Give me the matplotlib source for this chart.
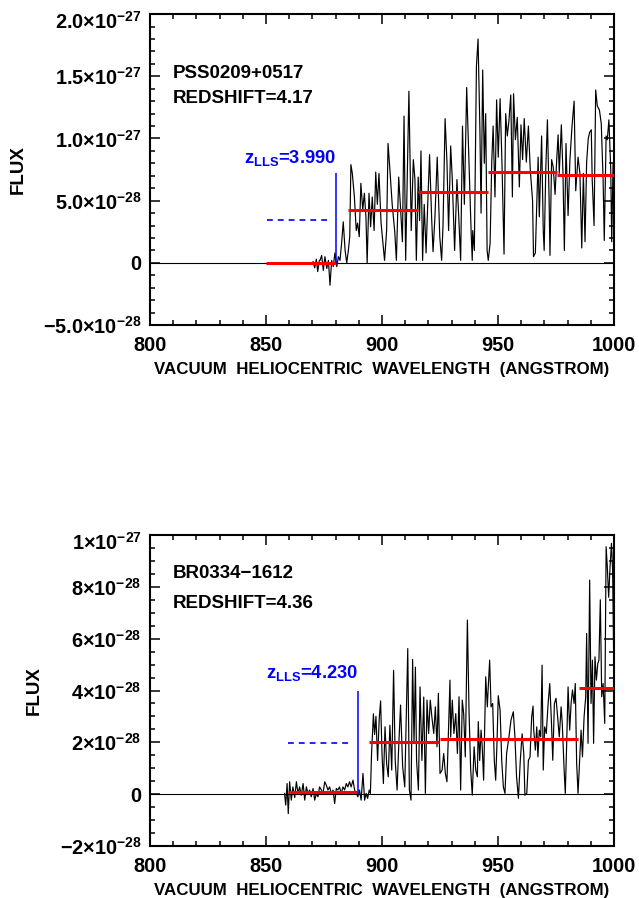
import matplotlib
matplotlib.use("Agg")
import matplotlib.pyplot as plt
from matplotlib.ticker import MultipleLocator
from matplotlib.transforms import ScaledTranslation

plt.rcParams['font.family'] = ['Liberation Sans', 'DejaVu Sans']
plt.rcParams['font.weight'] = 'bold'
plt.rcParams['axes.labelweight'] = 'bold'
plt.rcParams['mathtext.fontset'] = 'custom'
plt.rcParams['mathtext.rm'] = 'Liberation Sans:bold'
plt.rcParams['mathtext.it'] = 'Liberation Sans:bold'
plt.rcParams['mathtext.bf'] = 'Liberation Sans:bold'

# flux in units of 1e-28
# ---------- PSS0209+0517 ----------
wave1 = [870.3, 871.0, 871.7, 872.3, 873.0, 873.3, 874.0, 874.7, 875.4, 876.2,
         876.9, 877.6, 878.3, 879.0, 879.7, 880.5, 881.2, 881.9, 882.6, 883.3,
         884.1, 884.8, 885.5, 886.1, 886.6, 887.2, 888.1, 888.9, 889.5, 890.2,
         890.9, 891.7, 892.4, 893.1, 893.6, 894.4, 895.1, 895.8, 896.6, 897.3,
         898.0, 898.7, 899.6, 901.1, 902.0, 902.6, 903.4, 904.4, 905.5, 906.2,
         907.2, 907.9, 908.8, 909.5, 910.2, 911.6, 912.6, 913.5, 914.2, 914.8,
         915.6, 916.2, 916.8, 917.5, 918.2, 919.0, 919.7, 920.5, 921.4, 922.0,
         922.8, 923.8, 924.9, 925.7, 926.3, 927.2, 928.0, 928.7, 929.6, 930.3,
         931.3, 932.3, 933.1, 933.9, 934.7, 935.5, 936.5, 937.5, 938.4, 938.9,
         939.1, 939.8, 940.7, 941.4, 942.2, 942.7, 943.4, 944.1, 944.7, 945.3,
         945.8, 946.6, 947.3, 947.9, 948.7, 949.4, 950.1, 950.9, 951.7, 952.6,
         953.3, 954.0, 954.7, 955.5, 956.2, 956.7, 957.5, 958.3, 959.2, 959.9,
         960.6, 961.3, 962.2, 963.1, 963.9, 964.9, 965.3, 966.1, 967.3, 967.8,
         968.8, 969.5, 969.9, 970.6, 971.3, 972.0, 972.4, 973.1, 973.8, 974.6,
         975.3, 975.9, 976.4, 977.3, 978.0, 978.6, 979.3, 980.2, 981.0, 981.9,
         982.8, 983.5, 984.5, 985.3, 986.1, 986.8, 987.5, 988.2, 988.9, 989.5,
         990.2, 990.6, 991.4, 992.1, 992.8, 993.7, 994.5, 995.3, 995.8, 996.6,
         997.1, 997.8, 998.6, 999.0, 999.6, 999.9]
flux1 = [0.1, -0.4, 0.3, -0.7, 0.2, 0.2, 0.6, -0.6, 0.5, -0.45,
         0.2, -1.8, 0.2, -0.3, 0.8, -0.3, 0.5, 0.2, 1.6, 3.3,
         1.0, 0.0, 1.0, 2.1, 7.9, 7.2, 5.3, 2.6, 3.2, 2.1,
         6.4, 4.25, 5.6, 3.6, 0.0, 5.6, 2.9, 5.3, 2.6, 7.3,
         4.7, 7.2, 3.2, 0.2, 2.6, 9.6, 7.5, 4.7, 2.5, 0.2,
         6.9, 4.7, 1.7, 11.8, 0.2, 13.8, 2.6, 8.3, 6.7, 0.2,
         6.9, 3.4, 9.0, 0.2, 4.7, 0.8, 4.7, 8.7, 3.6, 0.9,
         3.6, 8.5, 2.1, 0.2, 3.0, 11.6, 8.1, 2.6, 9.4, 6.7,
         1.0, 6.7, 3.6, 0.2, 11.0, 4.7, 14.1, 8.1, 2.6, 0.2,
         2.6, 1.0, 15.8, 18.0, 10.7, 4.0, 15.5, 8.0, 12.0, 1.0,
         0.2, 1.6, 8.1, 11.0, 5.3, 13.1, 8.5, 13.2, 8.1, 0.7,
         12.0, 10.2, 11.4, 13.5, 5.3, 13.6, 9.9, 11.7, 6.1, 11.1,
         8.3, 11.6, 8.1, 11.0, 7.5, 5.0, 0.5, 0.8, 8.5, 3.7,
         10.2, 2.6, 1.0, 7.6, 11.5, 5.3, 0.6, 8.3, 7.7, 5.5,
         8.3, 10.3, 7.2, 11.1, 7.2, 1.0, 9.6, 3.8, 8.3, 11.0,
         13.0, 5.8, 8.5, 7.2, 1.2, 7.2, 1.7, 8.1, 10.0, 10.5,
         10.7, 6.7, 3.0, 13.9, 12.6, 12.3, 11.2, 6.7, 1.8, 10.2,
         9.9, 11.5, 7.5, 1.7, 8.0, 4.0]
# Lyman limit continuum levels: start, end, level
step_lo1 = [850.0, 885.5, 915.6, 945.7, 975.5]
step_hi1 = [880.0, 915.4, 945.5, 975.4, 1000.0]
step_lev1 = [0.03, 4.27, 5.68, 7.29, 7.07]
lls_wave1 = 880.2
lls_top1 = 7.2
dash_x1 = [850.3, 878.5]
dash_lev1 = 3.44
name1 = "PSS0209+0517"
zlab1 = "REDSHIFT=4.17"
zlls1 = "3.990"

# ---------- BR0334-1612 ----------
wave2 = [858.0, 858.5, 859.1, 859.6, 860.2, 860.9, 861.6, 862.4, 863.1, 863.8,
         864.5, 865.2, 866.0, 866.7, 867.4, 868.1, 868.8, 869.5, 870.3, 871.0,
         871.7, 872.4, 873.1, 873.9, 874.6, 875.3, 876.0, 876.7, 877.4, 878.2,
         878.9, 879.6, 880.3, 881.0, 881.7, 882.4, 883.2, 883.9, 884.6, 885.3,
         886.0, 886.7, 887.5, 888.2, 888.9, 889.6, 890.3, 891.0, 891.8, 892.5,
         893.2, 893.8, 894.5, 895.0, 895.5, 896.3, 896.8, 897.4, 898.1, 898.8,
         899.4, 900.0, 900.6, 901.3, 902.0, 902.7, 903.4, 904.2, 905.0, 905.7,
         906.5, 907.2, 908.0, 908.9, 909.8, 910.3, 911.1, 911.8, 912.5, 913.2,
         913.8, 914.4, 914.9, 915.7, 916.4, 917.2, 918.0, 918.7, 919.4, 920.1,
         920.8, 921.5, 922.3, 923.0, 923.7, 924.3, 925.0, 925.9, 926.6, 927.3,
         928.0, 928.7, 929.3, 929.6, 930.3, 931.0, 931.8, 932.5, 933.2, 933.9,
         934.6, 935.2, 935.9, 936.8, 937.5, 938.2, 938.9, 939.7, 940.4, 941.1,
         941.5, 942.1, 942.7, 943.2, 943.8, 944.7, 945.4, 945.8, 946.4, 947.0,
         947.7, 948.4, 949.0, 949.6, 950.1, 950.9, 951.6, 952.3, 953.0, 953.7,
         954.7, 955.6, 956.6, 957.3, 958.0, 958.8, 959.6, 960.4, 961.1, 961.6,
         962.4, 963.1, 963.8, 964.5, 965.1, 965.4, 966.1, 966.7, 967.2, 967.8,
         968.4, 969.0, 969.5, 970.1, 970.8, 971.6, 972.3, 973.0, 973.6, 974.3,
         975.0, 975.7, 976.4, 977.2, 977.7, 978.5, 979.0, 979.6, 980.2, 980.9,
         981.5, 982.1, 982.8, 983.3, 983.9, 984.5, 985.1, 985.8, 986.4, 987.1,
         987.8, 988.2, 988.8, 989.5, 990.1, 990.7, 991.2, 991.8, 992.4, 993.0,
         993.5, 994.1, 994.7, 995.3, 996.0, 996.6, 997.1, 997.7, 998.3, 998.9,
         999.4, 999.9]
flux2 = [0.03, -0.42, 0.41, -0.75, 0.48, -0.23, 0.28, -0.13, 0.48, 0.03,
         0.28, -0.04, 0.41, -0.23, 0.28, 0.03, 0.16, -0.1, 0.22, -0.23,
         0.03, -0.1, 0.28, 0.16, 0.03, 0.48, 0.35, 0.16, 0.28, 0.03,
         0.16, -0.36, 0.22, 0.16, 0.28, 0.03, 0.28, 0.16, 0.41, 0.28,
         0.48, 0.28, 0.54, 0.16, 0.03, -0.1, 0.16, -0.23, 0.8, -0.23,
         0.03, -0.16, 0.16, 0.03, 1.57, 3.1, 2.3, 3.0, 1.3, 2.9,
         3.6, 1.57, 0.41, 2.6, 1.18, 0.67, 2.66, 0.93, 4.78, 1.3,
         0.16, 1.83, 3.44, 1.06, 0.28, 2.34, 5.62, 0.16, -0.23, 5.2,
         1.96, 4.9, 1.3, 0.16, 4.14, 1.3, 3.75, 0.03, 3.63, 2.34,
         3.63, 2.98, 2.34, 3.37, 1.83, 3.89, 0.8, 0.93, 1.57, 0.8,
         0.48, 2.6, 4.4, 2.2, 3.63, 2.34, 3.11, 1.57, 3.76, 0.16,
         3.63, 3.11, 1.44, 6.72, 3.24, 1.0, -0.04, 1.83, 0.93, 0.67,
         2.8, 1.3, 2.47, 1.83, 0.54, 4.53, 3.37, 4.14, 5.17, 3.37,
         3.5, 1.3, 0.54, 2.08, 3.8, 3.24, 1.3, 0.28, 0.03, 1.57,
         2.2, 2.86, 3.18, 2.2, 0.67, -0.16, 1.3, 2.33, 1.57, -0.04,
         0.03, 1.3, 1.44, 2.97, 3.4, 2.47, 1.7, 2.6, 1.44, 2.47,
         2.21, 4.98, 0.93, 2.6, 2.34, 3.5, 4.27, 2.86, 1.31, 3.5,
         3.7, 2.98, 2.21, 3.37, 2.73, 0.93, 0.03, 1.96, 4.14, 2.47,
         3.5, 4.02, 3.5, 4.27, 1.18, 0.03, 1.18, 2.47, 1.44, 2.98,
         3.76, 6.2, 1.96, 8.26, 3.5, 5.17, 1.96, 5.3, 4.4, 5.04,
         5.17, 7.5, 3.76, 4.27, 2.73, 9.55, 8.78, 7.6, 8.78, 9.68,
         8.65, 5.0]
step_lo2 = [859.5, 894.6, 924.8, 984.8]
step_hi2 = [889.2, 924.7, 984.4, 1000.0]
step_lev2 = [0.09, 2.0, 2.11, 4.09]
lls_wave2 = 889.6
lls_top2 = 3.99
dash_x2 = [859.5, 887.0]
dash_lev2 = 1.96
name2 = "BR0334\u22121612"
zlab2 = "REDSHIFT=4.36"
zlls2 = "4.230"

yticks1 = [-5, 0, 5, 10, 15, 20]
ylabels1 = ['$\u22125.0{\\times}10^{\u221228}$', '0', '$5.0{\\times}10^{\u221228}$',
            '$1.0{\\times}10^{\u221227}$', '$1.5{\\times}10^{\u221227}$', '$2.0{\\times}10^{\u221227}$']
yticks2 = [-2, 0, 2, 4, 6, 8, 10]
ylabels2 = ['$\u22122{\\times}10^{\u221228}$', '0', '$2{\\times}10^{\u221228}$', '$4{\\times}10^{\u221228}$',
            '$6{\\times}10^{\u221228}$', '$8{\\times}10^{\u221228}$', '$1{\\times}10^{\u221227}$']
xticks = [800, 850, 900, 950, 1000]
xtitle = 'VACUUM  HELIOCENTRIC  WAVELENGTH  (ANGSTROM)'

fig = plt.figure(figsize=(6.39, 8.98), dpi=100)
ax1 = fig.add_axes([0.2347, 0.638, 0.7262, 0.3463])
ax2 = fig.add_axes([0.2347, 0.0579, 0.7262, 0.3463])


def panel(ax, wave, flux, lo, hi, lev, lw, ltop, dx, dlev, name, zlab, zlls,
          yt, yl, ylim, yminor, name_y, z_y, lls_y):
    ax.axhline(0, color='black', lw=0.8, zorder=1)
    ax.plot(wave, flux, color='black', lw=0.85, zorder=2)
    ax.hlines(lev, lo, hi, colors='red', lw=2.2, zorder=3)
    ax.vlines(lw, 0, ltop, colors='blue', lw=1.1, zorder=4)
    ax.plot(dx, [dlev, dlev], color='blue', lw=1.2, linestyle=(0, (3.5, 3)), zorder=4)
    ax.text(lw, lls_y, r'z$_{\rm LLS}$=' + zlls, color='blue', fontsize=13.2,
            ha='right', va='baseline')
    ax.text(0.05, name_y, name, transform=ax.transAxes, fontsize=13.5, va='center')
    ax.text(0.05, z_y, zlab, transform=ax.transAxes, fontsize=13.5, va='center')
    ax.set_xlim(800, 1000)
    ax.set_ylim(*ylim)
    ax.set_xticks(xticks)
    ax.set_xticklabels([str(t) for t in xticks])
    ax.set_yticks(yt)
    ax.set_yticklabels(yl)
    ax.xaxis.set_minor_locator(MultipleLocator(10))
    ax.yaxis.set_minor_locator(MultipleLocator(yminor))
    ax.tick_params(which='both', direction='in', top=True, right=True, width=1.1,
                   labelsize=14.3)
    ax.tick_params(which='major', length=7)
    ax.tick_params(which='minor', length=3.6)
    ax.tick_params(axis='x', pad=8)
    ax.tick_params(axis='y', pad=6)
    for s in ax.spines.values():
        s.set_linewidth(1.5)
    # IDL keeps the top label inside the window
    top_lab = ax.get_yticklabels()[-1]
    top_lab.set_transform(top_lab.get_transform() +
                          ScaledTranslation(0, -6 / 100, fig.dpi_scale_trans))
    ax.set_xlabel(xtitle, fontsize=12.2, labelpad=5)
    ax.set_ylabel('FLUX', fontsize=13.5, labelpad=12)


panel(ax1, wave1, flux1, step_lo1, step_hi1, step_lev1, lls_wave1, lls_top1,
      dash_x1, dash_lev1, name1, zlab1, zlls1, yticks1, ylabels1, (-5, 20), 1,
      0.81, 0.73, 8.0)
panel(ax2, wave2, flux2, step_lo2, step_hi2, step_lev2, lls_wave2, lls_top2,
      dash_x2, dash_lev2, name2, zlab2, zlls2, yticks2, ylabels2, (-2, 10), 0.5,
      0.877, 0.78, 4.48)

fig.savefig('out.png', dpi=100)
